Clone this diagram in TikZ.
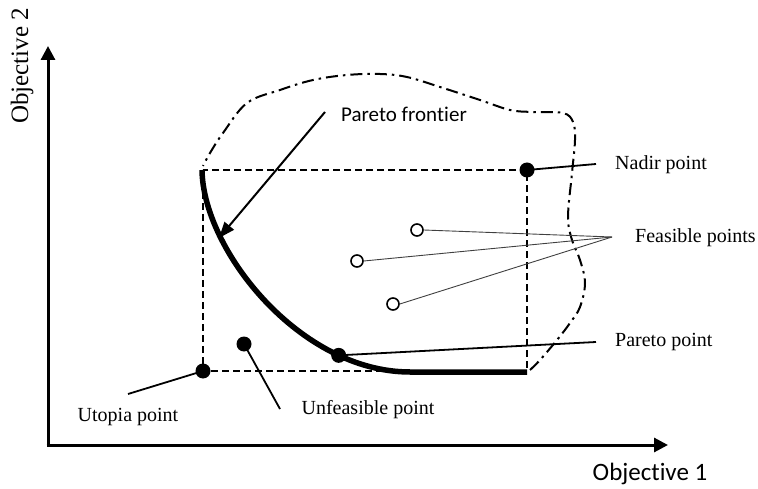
\documentclass[tikz,border=0pt]{standalone}
\usepackage{fontspec}
\setmainfont{Liberation Serif}
\newfontfamily\calib[Ligatures=NoCommon]{Carlito}
\usetikzlibrary{arrows.meta}
\begin{document}
\begin{tikzpicture}[x=1pt,y=-1pt,
  axis/.style={line width=3pt,-{Triangle[length=14pt,width=14pt]}},
  boxline/.style={line width=1.8pt,dash pattern=on 7pt off 4pt},
  hull/.style={line width=2pt,dash pattern=on 12pt off 5pt on 2.5pt off 5pt},
  frontier/.style={line width=5.5pt},
  fillpt/.style={circle,fill=black,inner sep=0pt,minimum size=15pt},
  openpt/.style={circle,draw=black,fill=white,line width=1.6pt,inner sep=0pt,minimum size=12pt},
  lead/.style={line width=1.8pt},
  thinlead/.style={line width=0.9pt,draw=black!75},
  serif/.style={font=\fontsize{20}{24}\selectfont,inner sep=0pt},
  sans/.style={font=\calib\fontsize{21}{25}\selectfont,inner sep=0pt}]
\useasboundingbox (0,0) rectangle (758,489);

% axes
\coordinate (origin) at (48,445);
\coordinate (ytip) at (48,46);
\coordinate (xtip) at (668,445);
\draw[axis] (origin) -- (ytip);
\draw[axis] ([xshift=-1.5pt]origin) -- (xtip);
\node[font=\fontsize{25}{30}\selectfont,rotate=90,inner sep=0pt] (ylab) at (22,66) {Objective 2};
\node[font=\calib\fontsize{25}{30}\selectfont,inner sep=0pt] (xlab) at (650,474) {Objective 1};

% feasible region boundary
\draw[hull] plot[smooth,tension=0.6] coordinates {
  (530,370) (540,360) (557,340) (570,323) (580,307) (585,283) (580,260)
  (572,240) (568,217) (572,173) (575,140) (573,122) (563,113) (533,112)
  (510,110) (480,100) (440,87) (407,77) (380,74) (347,75) (313,80)
  (280,90) (247,103) (223,133) (210,153) (203,166)};

% bounding box between utopia and nadir
\draw[boxline] (203,170) rectangle (527,371);

% Pareto frontier
\draw[frontier] (202,170) .. controls (203,250) and (300,372) .. (410,372)
  node[pos=0.775,fillpt] (pareto) {} -- (527,372);

% points
\node[fillpt] (utopia) at (203,371) {};
\node[fillpt] (nadir) at (527,170) {};
\node[fillpt] (unfeas) at (244,344) {};
\node[openpt] (f1) at (417,230) {};
\node[openpt] (f2) at (357,261) {};
\node[openpt] (f3) at (393,304) {};

% labels
\node[sans] (lfront) at (404,114) {Pareto fron\kern0pt tier};
\node[serif,anchor=west] (lnadir) at (615,165) {Nadir point};
\node[serif,anchor=west] (lfeas) at (635,238) {Feasible points};
\node[serif,anchor=west] (lpareto) at (615,342) {Pareto point};
\node[serif] (lutopia) at (128,417) {Utopia point};
\node[serif] (lunfeas) at (368,410) {Unfeasible point};

% leader ends
\coordinate (cfront) at (325,112);
\coordinate (cfronttip) at (219,238);
\coordinate (cnadir) at (596,164);
\coordinate (cfeas) at (612,237);
\coordinate (cpareto) at (596,342);
\coordinate (cutopia) at (128,394);
\coordinate (cunfeas) at (280,409);

% leaders
\draw[line width=2pt,-{Triangle[length=16pt,width=12pt]}] (cfront) -- (cfronttip);
\draw[lead] (nadir.center) -- (cnadir);
\draw[lead] (pareto.center) -- (cpareto);
\draw[lead] (utopia.center) -- (cutopia);
\draw[lead] (unfeas.center) -- (cunfeas);
\draw[thinlead] (f1.east) -- (cfeas);
\draw[thinlead] (f2.east) -- (cfeas);
\draw[thinlead] (f3.east) -- (cfeas);
\end{tikzpicture}
\end{document}
